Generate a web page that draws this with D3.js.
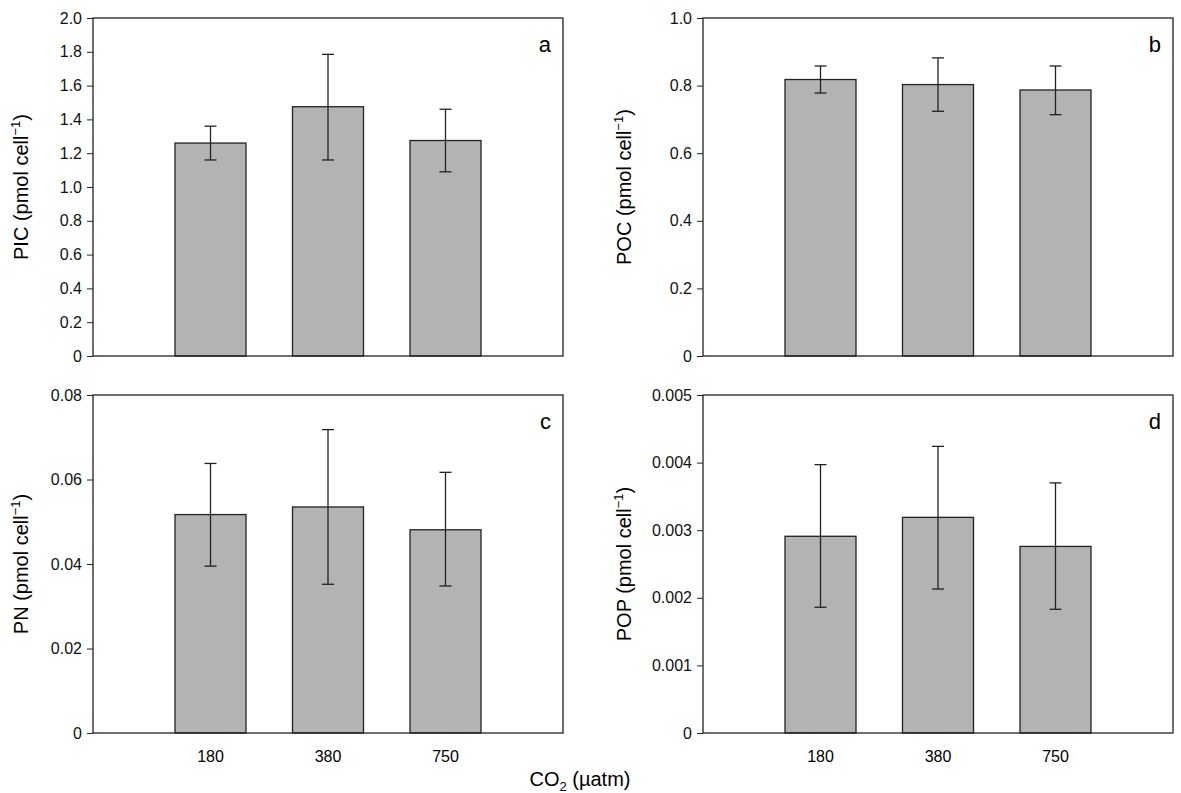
<!DOCTYPE html>
<html><head><meta charset="utf-8">
<script src="https://cdn.jsdelivr.net/npm/d3@7"></script>
<style>body{margin:0;background:#fff}text{font-family:"Liberation Sans",Arial,sans-serif}</style>
</head><body><svg id="c" width="1181" height="793"></svg>
<script>
const categories=["180","380","750"];
const picMean=[1.26,1.475,1.275], picLo=[1.16,1.16,1.09], picHi=[1.36,1.785,1.46];
const pocMean=[0.818,0.803,0.787], pocLo=[0.778,0.724,0.714], pocHi=[0.858,0.882,0.858];
const pnMean=[0.0517,0.0535,0.0481], pnLo=[0.0395,0.0352,0.0348], pnHi=[0.0638,0.0718,0.0617];
const popMean=[0.00291,0.00319,0.00276], popLo=[0.00186,0.00213,0.00183], popHi=[0.00397,0.00424,0.00370];
const aTicks=[0,0.2,0.4,0.6,0.8,1.0,1.2,1.4,1.6,1.8,2.0];
const bTicks=[0,0.2,0.4,0.6,0.8,1.0];
const cTicks=[0,0.02,0.04,0.06,0.08];
const dTicks=[0,0.001,0.002,0.003,0.004,0.005];
const panels=[
 {x:93,y:18,m:picMean,lo:picLo,hi:picHi,t:aTicks,fmt:d=>d===0?"0":d.toFixed(1),lab:"PIC",L:"a",xl:false},
 {x:703,y:18,m:pocMean,lo:pocLo,hi:pocHi,t:bTicks,fmt:d=>d===0?"0":d.toFixed(1),lab:"POC",L:"b",xl:false},
 {x:93,y:395,m:pnMean,lo:pnLo,hi:pnHi,t:cTicks,fmt:d=>d===0?"0":d.toFixed(2),lab:"PN",L:"c",xl:true},
 {x:703,y:395,m:popMean,lo:popLo,hi:popHi,t:dTicks,fmt:d=>d===0?"0":d.toFixed(3),lab:"POP",L:"d",xl:true}];
const W=470,H=338,svg=d3.select("#c");
panels.forEach(p=>{
 const g=svg.append("g").attr("transform",`translate(${p.x},${p.y})`);
 const x=d3.scaleLinear().domain([0,4]).range([0,W]);
 const y=d3.scaleLinear().domain([0,p.t[p.t.length-1]]).range([H,0]);
 const bw=71;
 g.selectAll("rect.b").data(p.m).join("rect").attr("x",(d,i)=>x(i+1)-bw/2).attr("width",bw)
  .attr("y",d=>y(d)).attr("height",d=>H-y(d)).attr("fill","#b3b3b3").attr("stroke","#222").attr("stroke-width",1.3);
 p.m.forEach((d,i)=>{const cx=x(i+1);
  g.append("line").attr("x1",cx).attr("x2",cx).attr("y1",y(p.lo[i])).attr("y2",y(p.hi[i])).attr("stroke","#222").attr("stroke-width",1.3);
  [p.lo[i],p.hi[i]].forEach(v=>g.append("line").attr("x1",cx-6).attr("x2",cx+6).attr("y1",y(v)).attr("y2",y(v)).attr("stroke","#222").attr("stroke-width",1.3));});
 g.append("rect").attr("width",W).attr("height",H).attr("fill","none").attr("stroke","#222").attr("stroke-width",1.3);
 const ax=g.append("g").call(d3.axisLeft(y).tickValues(p.t).tickFormat(p.fmt).tickSize(6).tickSizeOuter(0));
 ax.select(".domain").remove();
 ax.selectAll("line").attr("stroke","#222");
 ax.selectAll("text").attr("font-size",16).attr("fill","#111").attr("dx",-2);
 g.append("text").attr("x",W-12).attr("y",34).attr("text-anchor","end").attr("font-size",22).text(p.L);
 const yt=g.append("text").attr("transform",`translate(${p.x<500?-65:-72},${H/2}) rotate(-90)`).attr("text-anchor","middle").attr("font-size",20);
 yt.append("tspan").text(p.lab+" (pmol cell");yt.append("tspan").attr("dy",-8).attr("font-size",13).text("−1");yt.append("tspan").attr("dy",8).text(")");
 if(p.xl){g.selectAll("text.xt").data(categories).join("text").attr("x",(d,i)=>x(i+1)).attr("y",H+29).attr("text-anchor","middle").attr("font-size",16).text(d=>d);}
});
const xt=svg.append("text").attr("x",580).attr("y",786).attr("text-anchor","middle").attr("font-size",20);
xt.append("tspan").text("CO");xt.append("tspan").attr("dy",5).attr("font-size",13).text("2");xt.append("tspan").attr("dy",-5).text(" (µatm)");
</script></body></html>
